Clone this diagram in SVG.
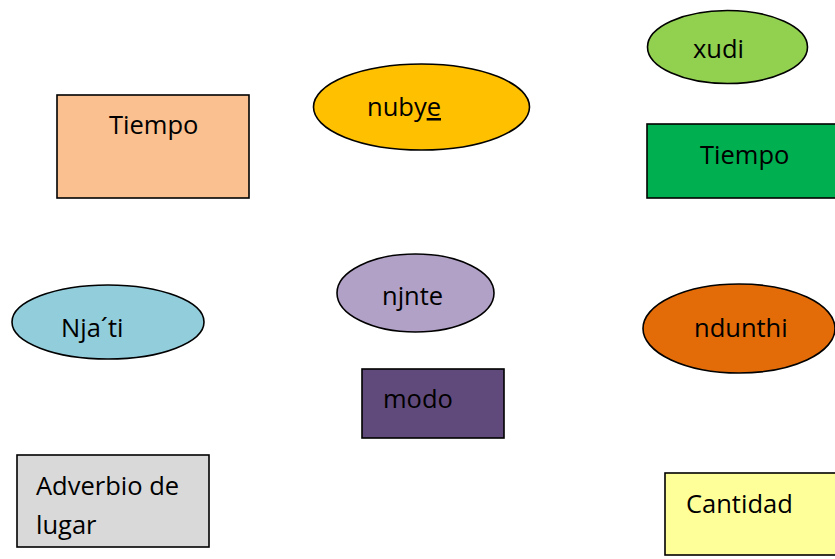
<svg xmlns="http://www.w3.org/2000/svg" width="835" height="559" viewBox="0 0 835 559">
<style>
.s{stroke:#000;stroke-width:1.6}
.t{font-family:"Open Sans","Liberation Sans",sans-serif;font-size:25.5px;fill:#000}
</style>
<rect width="835" height="559" fill="#fff"/>
<g id="connectors"/>
<g id="tiempo1"><rect class="s" x="57" y="95" width="192" height="103" fill="#FAC090"/><text class="t" x="109" y="134">Tiempo</text></g>
<g id="nubye"><ellipse class="s" cx="421.5" cy="107" rx="108" ry="43" fill="#FFC000"/><text class="t" x="367" y="116">nuby<tspan text-decoration="underline">e</tspan></text></g>
<g id="xudi"><ellipse class="s" cx="727.5" cy="47" rx="80" ry="36.5" fill="#92D050"/><text class="t" x="693" y="58">xudi</text></g>
<g id="tiempo2"><rect class="s" x="647" y="124" width="192" height="74" fill="#00B050"/><text class="t" x="700" y="164">Tiempo</text></g>
<g id="njati"><ellipse class="s" cx="108" cy="322" rx="96" ry="37" fill="#92CDDC"/><text class="t" x="61" y="337">Nja´ti</text></g>
<g id="njnte"><ellipse class="s" cx="415.5" cy="293" rx="78.5" ry="39" fill="#B2A1C7"/><text class="t" x="382" y="305">njnte</text></g>
<g id="modo"><rect class="s" x="362" y="369" width="142" height="69" fill="#604A7B"/><text class="t" x="383" y="408">modo</text></g>
<g id="ndunthi"><ellipse class="s" cx="739" cy="328.5" rx="96" ry="44.5" fill="#E36C09"/><text class="t" x="694" y="337">ndunthi</text></g>
<g id="adverbio"><rect class="s" x="17" y="455" width="192" height="92" fill="#D9D9D9"/><text class="t" x="36" y="495">Adverbio de</text><text class="t" x="36" y="534">lugar</text></g>
<g id="cantidad"><rect class="s" x="665" y="473" width="180" height="82" fill="#FFFF99"/><text class="t" x="686" y="513">Cantidad</text></g>
</svg>
